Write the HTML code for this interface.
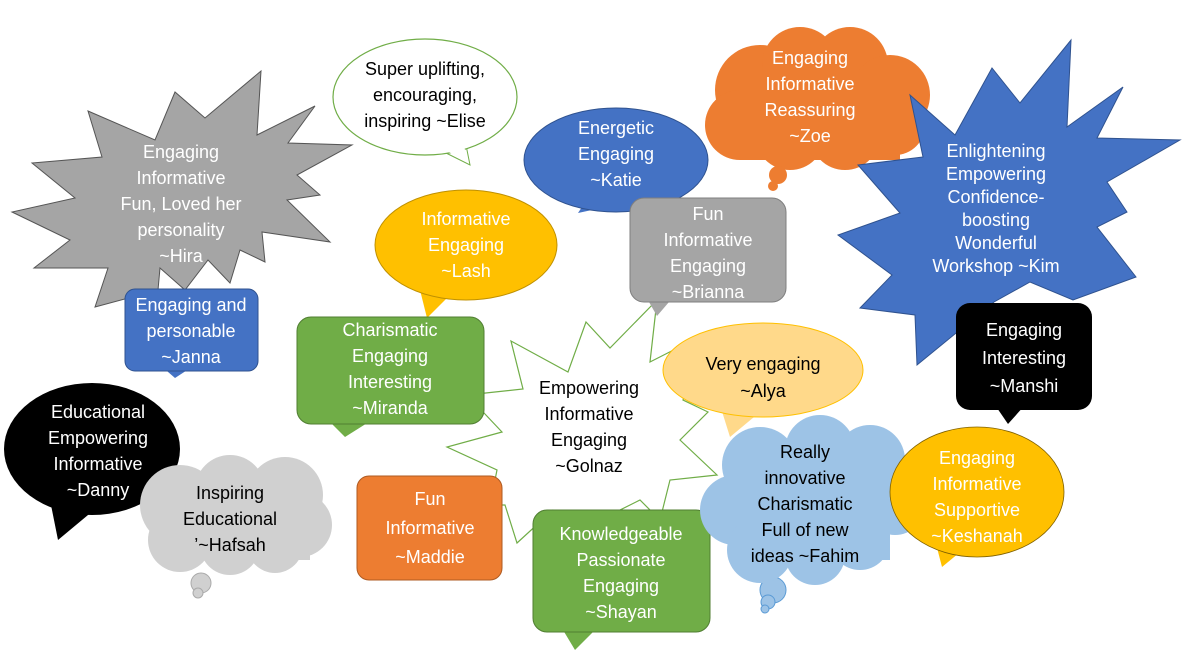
<!DOCTYPE html>
<html><head><meta charset="utf-8"><style>
html,body{margin:0;padding:0;background:#fff;width:1187px;height:667px;overflow:hidden}
text{font-family:"Liberation Sans",sans-serif;font-size:18px;text-anchor:middle}
</style></head><body>
<svg width="1187" height="667" viewBox="0 0 1187 667" xmlns="http://www.w3.org/2000/svg">
<polygon points="657,300 610,348 586,322 568,372 511,341 523,389 467,395 502,432 447,447 497,470 490,505 505,505 517,543 553,510 600,520 640,500 660,520 670,480 717,475 680,440 708,412 683,400 703,335 650,362" fill="#fff" stroke="#70ad47" stroke-width="1.2"/>
<g fill="#000"><text x="589" y="394">Empowering</text><text x="589" y="420">Informative</text><text x="589" y="446">Engaging</text><text x="589" y="472">~Golnaz</text></g>

<polygon points="88,111 155,140 175,92 205,118 261,71 257,135 315,106 288,143 352,145 297,175 320,195 287,200 330,242 262,232 265,262 240,250 230,283 208,260 185,290 160,268 158,290 95,307 108,268 34,268 70,240 12,212 75,198 32,163 102,157" fill="#a5a5a5" stroke="#555" stroke-width="1"/>
<g fill="#fff"><text x="181" y="158">Engaging</text><text x="181" y="184">Informative</text><text x="181" y="210">Fun, Loved her</text><text x="181" y="236">personality</text><text x="181" y="262">~Hira</text></g>

<polygon points="440,150 470,165 465,140" fill="#fff" stroke="#70ad47"/>
<ellipse cx="425" cy="97" rx="92" ry="58" fill="#fff" stroke="#70ad47" stroke-width="1.2"/>
<polygon points="441,148 468,162 463,142" fill="#fff"/>
<g fill="#000"><text x="425" y="75">Super uplifting,</text><text x="425" y="101">encouraging,</text><text x="425" y="127">inspiring ~Elise</text></g>

<g fill="#ed7d31">
<circle cx="760" cy="90" r="45"/><circle cx="800" cy="65" r="38"/><circle cx="850" cy="65" r="38"/><circle cx="890" cy="95" r="40"/><circle cx="740" cy="125" r="35"/><circle cx="790" cy="135" r="35"/><circle cx="845" cy="135" r="35"/><circle cx="895" cy="125" r="30"/><rect x="740" y="70" width="160" height="90"/>
<circle cx="778" cy="175" r="9"/><circle cx="773" cy="186" r="5"/>
</g>
<g fill="#fff"><text x="810" y="64">Engaging</text><text x="810" y="90">Informative</text><text x="810" y="116">Reassuring</text><text x="810" y="142">~Zoe</text></g>

<polygon points="1071,40 1067,127 1123,87 1097,138 1180,140 1107,182 1127,212 1097,227 1136,277 1073,300 1030,282 994,302 917,365 915,315 860,308 892,275 838,235 900,213 858,165 923,157 910,95 955,135 992,68 1020,103" fill="#4472c4" stroke="#2f528f" stroke-width="1"/>
<g fill="#fff" style="font-size:16px"><text x="996" y="157">Enlightening</text><text x="996" y="180">Empowering</text><text x="996" y="203">Confidence-</text><text x="996" y="226">boosting</text><text x="996" y="249">Wonderful</text><text x="996" y="272">Workshop ~Kim</text></g>

<polygon points="590,195 578,213 615,205" fill="#4472c4"/>
<ellipse cx="616" cy="160" rx="92" ry="52" fill="#4472c4" stroke="#2f528f"/>
<g fill="#fff"><text x="616" y="134">Energetic</text><text x="616" y="160">Engaging</text><text x="616" y="186">~Katie</text></g>

<polygon points="645,295 657,316 675,295" fill="#a5a5a5"/>
<rect x="630" y="198" width="156" height="104" rx="14" fill="#a5a5a5" stroke="#7f7f7f"/>
<g fill="#fff"><text x="708" y="220">Fun</text><text x="708" y="246">Informative</text><text x="708" y="272">Engaging</text><text x="708" y="298">~Brianna</text></g>

<polygon points="420,290 427,318 450,295" fill="#ffc000"/>
<ellipse cx="466" cy="245" rx="91" ry="55" fill="#ffc000" stroke="#bf9000"/>
<g fill="#fff"><text x="466" y="225">Informative</text><text x="466" y="251">Engaging</text><text x="466" y="277">~Lash</text></g>

<polygon points="160,365 175,378 195,365" fill="#4472c4"/>
<rect x="125" y="289" width="133" height="82" rx="10" fill="#4472c4" stroke="#2f528f"/>
<g fill="#fff"><text x="191" y="311">Engaging and</text><text x="191" y="337">personable</text><text x="191" y="363">~Janna</text></g>

<polygon points="328,420 345,437 372,420" fill="#70ad47"/>
<rect x="297" y="317" width="187" height="107" rx="14" fill="#70ad47" stroke="#507e32"/>
<g fill="#fff"><text x="390" y="336">Charismatic</text><text x="390" y="362">Engaging</text><text x="390" y="388">Interesting</text><text x="390" y="414">~Miranda</text></g>

<polygon points="50,500 58,540 100,505" fill="#000"/>
<ellipse cx="92" cy="449" rx="88" ry="66" fill="#000"/>
<g fill="#fff"><text x="98" y="418">Educational</text><text x="98" y="444">Empowering</text><text x="98" y="470">Informative</text><text x="98" y="496">~Danny</text></g>

<g fill="#d0d0d0" stroke="#aaa">
<circle cx="201" cy="583" r="10"/><circle cx="198" cy="593" r="5"/>
</g>
<g fill="#d0d0d0">
<circle cx="180" cy="505" r="40"/><circle cx="230" cy="490" r="35"/><circle cx="285" cy="495" r="38"/><circle cx="300" cy="525" r="32"/><circle cx="180" cy="540" r="32"/><circle cx="230" cy="545" r="30"/><circle cx="275" cy="545" r="28"/><rect x="170" y="490" width="140" height="70"/>
</g>
<g fill="#000"><text x="230" y="499">Inspiring</text><text x="230" y="525">Educational</text><text x="230" y="551">’~Hafsah</text></g>

<rect x="357" y="476" width="145" height="104" rx="12" fill="#ed7d31" stroke="#ae5a21"/>
<g fill="#fff" style="font-size:21px"><text x="430" y="505">Fun</text><text x="430" y="534">Informative</text><text x="430" y="563">~Maddie</text></g>

<polygon points="560,625 575,650 600,625" fill="#70ad47"/>
<rect x="533" y="510" width="177" height="122" rx="14" fill="#70ad47" stroke="#507e32"/>
<g fill="#fff"><text x="621" y="540">Knowledgeable</text><text x="621" y="566">Passionate</text><text x="621" y="592">Engaging</text><text x="621" y="618">~Shayan</text></g>

<polygon points="720,405 730,437 760,412" fill="#ffd98a"/>
<ellipse cx="763" cy="370" rx="100" ry="47" fill="#ffd98a" stroke="#ffc000"/>
<g fill="#000" style="font-size:21px"><text x="763" y="370">Very engaging</text><text x="763" y="397">~Alya</text></g>

<polygon points="995,405 1008,424 1025,405" fill="#000"/>
<rect x="956" y="303" width="136" height="107" rx="14" fill="#000"/>
<g fill="#fff" style="font-size:21px"><text x="1024" y="336">Engaging</text><text x="1024" y="364">Interesting</text><text x="1024" y="392">~Manshi</text></g>

<g fill="#9dc3e6" stroke="#5b9bd5">
<circle cx="773" cy="590" r="13"/><circle cx="768" cy="602" r="7"/><circle cx="765" cy="609" r="4"/>
</g>
<g fill="#9dc3e6">
<circle cx="760" cy="465" r="38"/><circle cx="820" cy="450" r="35"/><circle cx="870" cy="460" r="35"/><circle cx="895" cy="505" r="30"/><circle cx="735" cy="510" r="35"/><circle cx="760" cy="550" r="33"/><circle cx="815" cy="555" r="30"/><circle cx="860" cy="540" r="30"/><rect x="740" y="470" width="150" height="90"/>
</g>
<g fill="#000"><text x="805" y="458">Really</text><text x="805" y="484">innovative</text><text x="805" y="510">Charismatic</text><text x="805" y="536">Full of new</text><text x="805" y="562">ideas ~Fahim</text></g>

<polygon points="935,540 942,567 965,548" fill="#ffc000"/>
<ellipse cx="977" cy="492" rx="87" ry="65" fill="#ffc000" stroke="#7f6000" stroke-width="0.8"/>
<g fill="#fff"><text x="977" y="464">Engaging</text><text x="977" y="490">Informative</text><text x="977" y="516">Supportive</text><text x="977" y="542">~Keshanah</text></g>
</svg>
</body></html>
